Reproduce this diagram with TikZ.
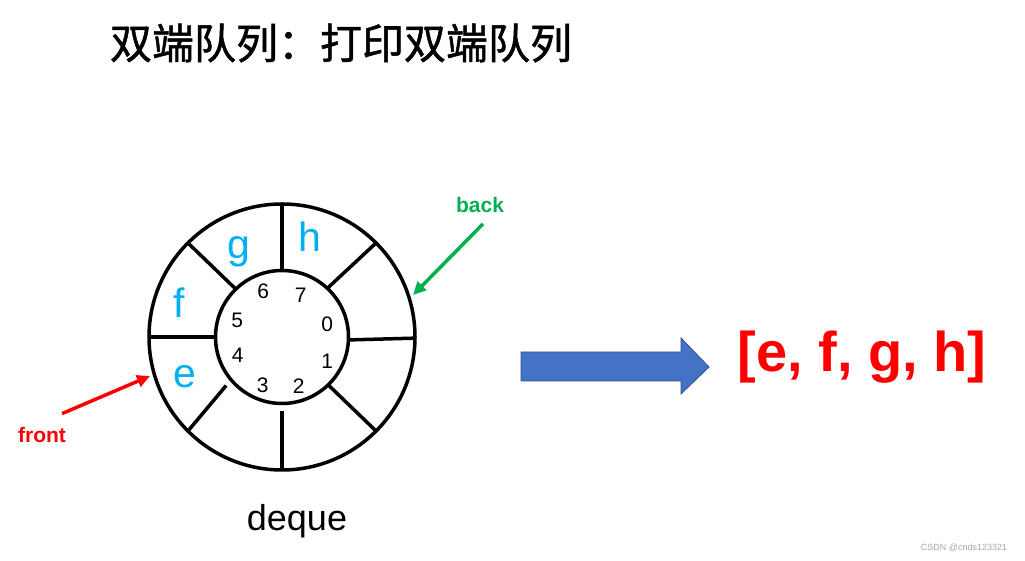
\documentclass[tikz,border=0pt]{standalone}
\usepackage{fontspec}
\setmainfont{Liberation Sans}
\newfontfamily\cjk[FakeBold=1.2]{Noto Sans CJK SC}
\usetikzlibrary{arrows.meta}
\definecolor{slotblue}{RGB}{0,176,240}
\definecolor{backgreen}{RGB}{0,176,80}
\definecolor{arrowfill}{RGB}{68,114,196}
\definecolor{arrowline}{RGB}{47,82,143}

\begin{document}
\begin{tikzpicture}[x=1pt,y=1pt,
		ring/.style={line width=3.5pt},
		slotlbl/.style={text=slotblue,inner sep=0pt,font=\fontsize{41}{41}\selectfont},
		idxlbl/.style={inner sep=0pt,font=\fontsize{21}{21}\selectfont},
		ptrlbl/.style={inner sep=0pt,font=\bfseries\fontsize{21}{21}\selectfont},
		ptr/.style={line width=3.5pt,-{Triangle[length=13pt,width=12pt]}}]
			\useasboundingbox (0,0) rectangle (1025,561);
			\node[font=\cjk\fontsize{42}{42}\selectfont] (title) at (341,518) {双端队列：打印双端队列};
			\begin{scope}[shift={(282,224)}]
				\draw[ring] (0,0) circle (133);
				\draw[ring] (0,0) circle (66.5);
				\draw[ring] (90:66.5) -- (90:133);
				\draw[ring] (47:67) -- (45:133);
				\draw[ring] (-2.5:67) -- (-0.5:133);
				\draw[ring] (-46:67) -- (-45:133);
				\draw[ring] (270:74) -- (270:133);
				\draw[ring] (221:74) -- (225:133);
				\draw[ring] (180:66.5) -- (180:133);
				\draw[ring] (134:67) -- (135:133);
				\node[idxlbl] (i0) at (45.3,12.7) {0};
				\node[idxlbl] (i1) at (45.3,-24) {1};
				\node[idxlbl] (i2) at (16.7,-48.7) {2};
				\node[idxlbl] (i3) at (-19.3,-48.7) {3};
				\node[idxlbl] (i4) at (-44.3,-18.7) {4};
				\node[idxlbl] (i5) at (-44.7,17) {5};
				\node[idxlbl] (i6) at (-18.7,45.3) {6};
				\node[idxlbl] (i7) at (18.7,42) {7};
				\node[slotlbl] (se) at (-97,-40) {e};
				\node[slotlbl] (sf) at (-103,34) {f};
				\node[slotlbl] (sg) at (-43,85) {g};
				\node[slotlbl] (sh) at (28,100) {h};
			\end{scope}
			\node[ptrlbl,text=red] (front) at (42,126) {front};
			\coordinate (fronttail) at ([shift={(-4,13.5)}]front.north east);
			\coordinate (fronttip) at (150,185);
			\draw[ptr,red] (fronttail) -- (fronttip);
			\node[ptrlbl,text=backgreen] (back) at (480,356) {back};
			\coordinate (backtail) at ([shift={(3,-11)}]back.south);
			\coordinate (backtip) at (413,266);
			\draw[ptr,backgreen] (backtail) -- (backtip);
			\node[font=\fontsize{36}{36}\selectfont] (deque) at (297,40) {deque};
			\filldraw[fill=arrowfill,draw=arrowline,line width=0.8pt] (521,209) -- (681,209) -- (681,223) -- (709,194) -- (681,167) -- (681,180) -- (521,180) -- cycle;
			\node[text=red,font=\bfseries\fontsize{56}{56}\selectfont] (result) at (862,204) {[e, f, g, h]};
			\node[text=gray!70,font=\fontsize{9}{9}\selectfont] (mark) at (964,13) {CSDN @cnds123321};
		\end{tikzpicture}
\end{document}
